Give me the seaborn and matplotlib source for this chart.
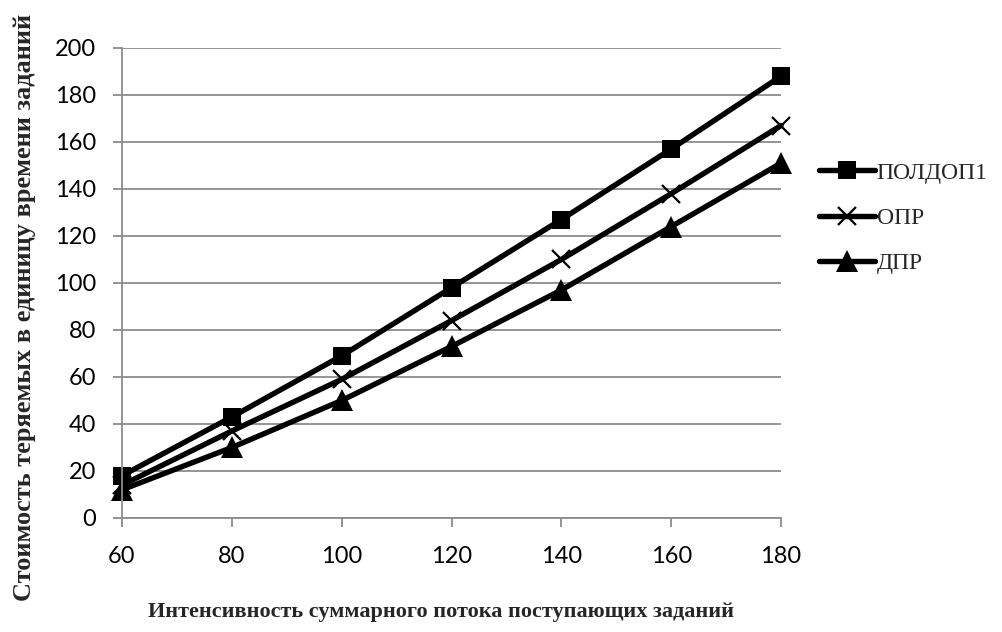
import matplotlib
matplotlib.use("Agg")
import matplotlib.pyplot as plt
import seaborn as sns
import pandas as pd

# Input flow intensity (x axis)
intensity = [60, 80, 100, 120, 140, 160, 180]

# Cost of lost tasks per unit time for each discipline
poldop1 = [18, 43, 69, 98, 127, 157, 188]
opr = [14, 37, 59, 84, 110, 138, 167]
dpr = [12, 30, 50, 73, 97, 124, 151]

series_names = ["ПОЛДОП1", "ОПР", "ДПР"]
x_ticks = [60, 80, 100, 120, 140, 160, 180]
y_ticks = [0, 20, 40, 60, 80, 100, 120, 140, 160, 180, 200]

sns.set_theme(style="white")
plt.rcParams["font.family"] = ["Lato", "DejaVu Sans"]

frames = []
for name, vals in zip(series_names, [poldop1, opr, dpr]):
    frames.append(pd.DataFrame({"x": intensity, "y": vals, "series": name}))
df = pd.concat(frames, ignore_index=True)

fig = plt.figure(figsize=(10.03, 6.32), dpi=100)
ax = fig.add_axes([0.1216, 0.1804, 0.6571, 0.7437])

styles = {
    "ПОЛДОП1": dict(marker="s", markersize=13.5, markeredgewidth=0),
    "ОПР": dict(marker="x", markersize=13.5, markeredgewidth=1.6),
    "ДПР": dict(marker="^", markersize=15.5, markeredgewidth=0),
}

for name in series_names:
    sub = df[df["series"] == name]
    sns.lineplot(data=sub, x="x", y="y", ax=ax, color="black", linewidth=3.9,
                 markerfacecolor="black", markeredgecolor="black",
                 label=name, solid_capstyle="round", clip_on=False,
                 **styles[name])

ax.set_xlim(60, 180)
ax.set_ylim(0, 200)
ax.set_xticks(x_ticks)
ax.set_yticks(y_ticks)
ax.yaxis.grid(True, color="#8c8c8c", linewidth=1.3)
ax.xaxis.grid(False)
ax.set_axisbelow(True)
for side in ["top", "right"]:
    ax.spines[side].set_visible(False)
for side in ["left", "bottom"]:
    ax.spines[side].set_color("#8c8c8c")
    ax.spines[side].set_linewidth(1.3)
ax.tick_params(axis="both", which="major", length=6.5, width=1.3, color="#8c8c8c",
               direction="out", labelsize=17, labelcolor="black",
               bottom=True, left=True)
ax.tick_params(axis="x", pad=14)
ax.tick_params(axis="y", pad=12)
ax.set_xlabel("")
ax.set_ylabel("")

serif = ["Liberation Serif", "DejaVu Serif"]
fig.text(0.44, 0.032, "Интенсивность суммарного потока поступающих заданий",
         ha="center", va="center", family=serif, weight="bold", size=16)
fig.text(0.024, 0.513, "Стоимость теряемых в единицу времени заданий",
         ha="center", va="center", rotation=90, family=serif, weight="bold", size=19)

leg = ax.legend(loc="center left", bbox_to_anchor=(1.025, 0.638), frameon=False,
                handlelength=2.4, handletextpad=0.05, labelspacing=1.0,
                prop=dict(family=serif, size=17))

fig.savefig("out.png", dpi=100)
